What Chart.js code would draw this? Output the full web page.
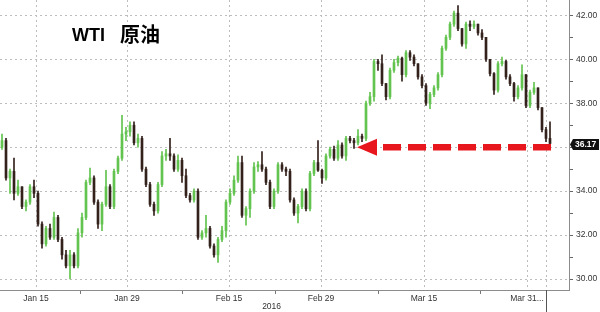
<!DOCTYPE html>
<html>
<head>
<meta charset="utf-8">
<script src="https://cdn.jsdelivr.net/npm/chart.js@4.4.0/dist/chart.umd.min.js"></script>
<style>
  html, body { margin: 0; padding: 0; background: #fff; }
  #wrap { width: 600px; height: 312px; position: relative; }
</style>
</head>
<body>
<div id="wrap"><canvas id="oilChart"></canvas></div>
<script>
const titleLatin = "WTI";
const titleCn = "原油";

// one candle per half trading day, Jan 11 .. Apr 4 2016
const openPrices = [
  36.0, 36.3, 34.6, 34.9, 33.9, 34.2, 33.3, 33.5, 34.2, 33.9,
  32.5, 31.6, 32.3, 31.9, 32.8, 31.8, 31.1, 30.6, 31.1, 30.6,
  32.1, 32.8, 34.4, 34.6, 33.5, 32.5, 33.4, 34.2, 33.3, 34.9,
  35.5, 36.6, 36.7, 37.0, 36.2, 36.4, 35.0, 34.3, 33.4, 33.1,
  34.3, 35.6, 35.7, 35.6, 35.0, 35.4, 34.7, 33.8, 33.6, 34.0,
  31.9, 32.1, 32.3, 31.5, 31.1, 31.8, 32.2, 33.5, 33.9, 34.5,
  35.3, 32.9, 33.2, 34.0, 35.1, 35.2, 35.0, 34.4, 33.3, 34.0,
  35.2, 35.0, 34.9, 33.6, 33.0, 33.3, 34.0, 33.2, 34.8, 35.3,
  34.95, 34.6, 35.6, 35.9, 35.5, 36.1, 35.6, 36.4, 36.3, 36.2,
  36.5, 36.4, 38.0, 38.3, 39.9, 39.8, 38.9, 38.3, 39.5, 39.85,
  40.05, 39.3, 40.3, 40.1, 39.8, 39.2, 38.8, 38.0, 38.4, 38.7,
  39.3, 40.5, 41.0, 41.6, 42.1, 41.4, 40.7, 41.6, 41.5, 41.6,
  41.2, 41.0, 40.0, 39.35, 38.6, 39.8, 39.9, 39.2, 38.9, 38.3,
  38.7, 39.3, 37.9, 38.5, 38.7, 37.8, 36.8, 36.4
];
const highPrices = [
  36.6, 36.4, 35.0, 35.5, 34.5, 34.2, 33.6, 34.3, 34.5, 34.0,
  32.6, 32.4, 32.5, 33.05, 32.9, 31.9, 31.3, 31.3, 31.2, 32.3,
  33.0, 34.5, 35.05, 34.7, 33.6, 33.5, 34.95, 34.3, 35.0, 35.6,
  37.45, 36.9, 37.15, 37.15, 36.6, 36.5, 35.1, 34.4, 33.5, 34.4,
  35.8, 35.9, 36.4, 35.7, 35.65, 35.5, 35.0, 33.9, 34.1, 34.1,
  32.2, 32.9, 32.4, 31.6, 31.9, 32.4, 33.6, 34.1, 34.7, 35.6,
  35.6, 33.3, 34.1, 35.3, 35.35, 35.8, 35.1, 34.5, 34.1, 35.3,
  35.3, 35.1, 35.0, 33.7, 33.4, 34.1, 34.1, 34.9, 35.4, 36.3,
  35.0, 35.7, 36.0, 36.05, 36.3, 36.2, 36.5, 36.5, 36.4, 36.8,
  36.6, 38.1, 38.5, 40.0, 40.0, 40.2, 38.9, 39.6, 40.0, 40.15,
  40.1, 40.4, 40.4, 40.2, 39.8, 39.3, 38.9, 38.5, 38.8, 39.4,
  40.6, 41.1, 41.7, 42.2, 42.45, 41.4, 41.7, 41.75, 41.75, 41.6,
  41.35, 41.0, 40.0, 39.4, 39.9, 40.1, 39.95, 39.3, 38.95, 38.8,
  39.75, 39.3, 38.6, 38.95, 38.7, 37.8, 36.9, 37.15
];
const lowPrices = [
  35.9, 34.5, 33.9, 33.6, 33.8, 33.2, 33.1, 33.4, 33.7, 32.4,
  31.4, 31.5, 31.8, 31.8, 31.7, 30.9, 30.5, 30.0, 30.5, 30.5,
  31.9, 32.7, 34.3, 33.4, 32.3, 32.2, 33.3, 33.2, 33.2, 34.8,
  35.4, 36.3, 36.5, 36.1, 36.0, 34.9, 34.2, 33.3, 32.9, 33.0,
  34.2, 35.4, 35.4, 34.9, 34.9, 34.4, 33.7, 33.5, 33.5, 31.8,
  31.8, 31.9, 31.4, 31.0, 30.75, 31.7, 31.9, 33.4, 33.8, 34.4,
  32.8, 32.45, 32.8, 33.9, 34.9, 34.9, 34.3, 33.2, 33.2, 33.9,
  34.9, 34.7, 33.5, 32.9, 32.55, 33.2, 33.1, 33.1, 34.7, 34.9,
  34.35, 34.5, 35.5, 35.4, 35.4, 35.5, 35.4, 36.2, 35.95, 36.1,
  36.25, 36.3, 37.9, 38.1, 39.5, 38.8, 38.15, 38.2, 39.4, 39.7,
  39.0, 39.2, 39.95, 39.7, 39.1, 38.7, 37.9, 37.75, 38.3, 38.6,
  39.2, 40.4, 40.9, 41.5, 41.3, 40.6, 40.5, 41.3, 41.4, 41.1,
  40.9, 39.9, 39.25, 38.4, 38.5, 39.7, 39.1, 38.8, 38.1, 38.2,
  38.6, 37.8, 37.8, 38.4, 37.7, 36.7, 36.25, 36.1
];
const closePrices = [
  36.3, 34.6, 34.9, 33.9, 34.2, 33.3, 33.5, 34.2, 33.9, 32.5,
  31.6, 32.3, 31.9, 32.8, 31.8, 31.1, 30.6, 31.1, 30.6, 32.1,
  32.8, 34.4, 34.6, 33.5, 32.5, 33.4, 34.2, 33.3, 34.9, 35.5,
  36.6, 36.7, 37.0, 36.2, 36.4, 35.0, 34.3, 33.4, 33.1, 34.3,
  35.6, 35.7, 35.6, 35.0, 35.4, 34.7, 33.8, 33.6, 34.0, 31.9,
  32.1, 32.3, 31.5, 31.1, 31.8, 32.2, 33.5, 33.9, 34.5, 35.3,
  32.9, 33.2, 34.0, 35.1, 35.2, 35.0, 34.4, 33.3, 34.0, 35.2,
  35.0, 34.9, 33.6, 33.0, 33.3, 34.0, 33.2, 34.8, 35.3, 34.95,
  34.6, 35.6, 35.9, 35.5, 36.1, 35.6, 36.4, 36.3, 36.2, 36.5,
  36.4, 38.0, 38.3, 39.9, 39.8, 38.9, 38.3, 39.5, 39.85, 40.05,
  39.3, 40.3, 40.1, 39.8, 39.2, 38.8, 38.0, 38.4, 38.7, 39.3,
  40.5, 41.0, 41.6, 42.1, 41.4, 40.7, 41.6, 41.5, 41.6, 41.2,
  41.0, 40.0, 39.35, 38.6, 39.8, 39.9, 39.2, 38.9, 38.3, 38.7,
  39.3, 37.9, 38.5, 38.7, 37.8, 36.8, 36.4, 36.17
];

// x ticks, in candle index units
const xTickPos = [8.5, 19.5, 31.25, 45, 56.75, 68.25, 79.75, 94, 105.5, 119.5, 131.25, 136];
const xTickLabels = ["Jan 15", "", "Jan 29", "", "Feb 15", "", "Feb 29", "", "Mar 15", "", "Mar 31...", ""];
const xGridPos = [8.5, 31.25, 56.75, 79.75, 105.5, 131.25, 136];
const yearLabel = "2016";
const yearLabelPos = 67.4;
const lastDayPos = 136;

// red arrow
const arrowLevel = 36.0;
const arrowTip = 88.75;
const arrowBack = 93.75;
const arrowDashFrom = 95.25;
const arrowDashTo = 138.25;

const lastPrice = closePrices[closePrices.length - 1];

const UP = "#62c34f";
const DOWN = "#33211c";
const candleColors = closePrices.map((c, i) => (c >= openPrices[i] ? UP : DOWN));

const labelFont = { family: "'Liberation Sans', Arial, sans-serif", size: 8.5 };

const overlayPlugin = {
  id: "overlay",
  afterDatasetsDraw(chart) {
    const { ctx, scales: { x, y } } = chart;
    const yy = y.getPixelForValue(arrowLevel);
    const tipX = x.getPixelForValue(arrowTip);
    const backX = x.getPixelForValue(arrowBack);
    ctx.save();
    ctx.fillStyle = "#e8161d";
    ctx.beginPath();
    ctx.moveTo(tipX, yy);
    ctx.lineTo(backX, yy - 8.5);
    ctx.lineTo(backX, yy + 8.5);
    ctx.closePath();
    ctx.fill();
    ctx.restore();
  },
  afterDraw(chart) {
    const { ctx, chartArea, scales: { x, y } } = chart;
    ctx.save();

    // last price tag
    const py = y.getPixelForValue(lastPrice) + 1;
    const left = chartArea.right + 1;
    ctx.fillStyle = "#111";
    ctx.beginPath();
    ctx.moveTo(left, py);
    ctx.lineTo(left + 3, py - 5.5);
    ctx.lineTo(599, py - 5.5);
    ctx.lineTo(599, py + 5.5);
    ctx.lineTo(left + 3, py + 5.5);
    ctx.closePath();
    ctx.fill();
    ctx.fillStyle = "#fff";
    ctx.font = "bold 8.5px 'Liberation Sans', Arial, sans-serif";
    ctx.textAlign = "left";
    ctx.textBaseline = "middle";
    ctx.fillText(lastPrice.toFixed(2), left + 5, py + 0.5);

    // last day marker below the axis
    const mx = Math.round(x.getPixelForValue(lastDayPos)) + 0.5;
    ctx.strokeStyle = "#555";
    ctx.lineWidth = 1;
    ctx.beginPath();
    ctx.moveTo(mx, chartArea.bottom);
    ctx.lineTo(mx, chart.height);
    ctx.stroke();

    // year
    ctx.fillStyle = "#333";
    ctx.font = "8.5px 'Liberation Sans', Arial, sans-serif";
    ctx.textAlign = "center";
    ctx.textBaseline = "alphabetic";
    ctx.fillText(yearLabel, x.getPixelForValue(yearLabelPos), 309);

    // title
    ctx.fillStyle = "#000";
    ctx.textAlign = "left";
    ctx.font = "bold 18px 'Liberation Sans', Arial, sans-serif";
    ctx.fillText(titleLatin, 72, 41);
    ctx.font = "bold 20px 'Noto Sans CJK SC', sans-serif";
    ctx.fillText(titleCn, 120, 42);
    ctx.restore();
  }
};

new Chart(document.getElementById("oilChart"), {
  type: "bar",
  data: {
    datasets: [
      {
        type: "line",
        data: [{ x: arrowDashFrom, y: arrowLevel }, { x: arrowDashTo, y: arrowLevel }],
        borderColor: "#e8161d",
        borderWidth: 6.5,
        borderDash: [18, 7],
        borderCapStyle: "butt",
        pointRadius: 0,
        order: 0
      },
      {
        data: closePrices.map((c, i) => ({ x: i, y: [openPrices[i], c] })),
        backgroundColor: candleColors,
        barThickness: 2,
        minBarLength: 1,
        grouped: false,
        order: 1
      },
      {
        data: closePrices.map((c, i) => ({ x: i, y: [lowPrices[i], highPrices[i]] })),
        backgroundColor: candleColors,
        barThickness: 1,
        grouped: false,
        order: 2
      }
    ]
  },
  options: {
    responsive: true,
    maintainAspectRatio: false,
    animation: false,
    devicePixelRatio: 1,
    layout: { padding: 0 },
    plugins: {
      legend: { display: false },
      tooltip: { enabled: false }
    },
    scales: {
      x: {
        type: "linear",
        min: -0.5,
        max: 141.75,
        offset: false,
        grid: {
          offset: false,
          color: (c) => (c.tick && xGridPos.includes(c.tick.value) ? "#bdbdbd" : "rgba(0,0,0,0)"),
          tickColor: (c) => (c.tick && xGridPos.includes(c.tick.value) ? "rgba(0,0,0,0)" : "#777"),
          tickLength: 4
        },
        border: { color: "#8c8c8c", dash: [2, 3] },
        ticks: {
          autoSkip: false,
          maxRotation: 0,
          padding: 0,
          color: "#333",
          font: labelFont,
          callback: (v) => {
            const k = xTickPos.indexOf(v);
            return k >= 0 ? xTickLabels[k] : "";
          }
        },
        afterBuildTicks: (s) => {
          s.ticks = xTickPos.map((v) => ({ value: v }));
        },
        afterFit: (s) => {
          s.height = 22;
          s.paddingLeft = 0;
          s.paddingRight = 0;
        }
      },
      y: {
        position: "right",
        min: 29.5,
        max: 42.7,
        grid: {
          color: (c) => (c.tick && Math.round(c.tick.value) % 2 === 0 ? "#bdbdbd" : "rgba(0,0,0,0)"),
          tickColor: "#666",
          tickLength: 4
        },
        border: { color: "#8c8c8c", dash: [2, 3] },
        ticks: {
          stepSize: 1,
          includeBounds: false,
          padding: 3,
          color: "#333",
          font: labelFont,
          callback: (v) => (Math.round(v) % 2 === 0 ? v.toFixed(2) : "")
        },
        afterFit: (s) => {
          s.width = 31;
          s.paddingTop = 0;
          s.paddingBottom = 0;
        }
      }
    }
  },
  plugins: [overlayPlugin]
});
</script>
</body>
</html>
